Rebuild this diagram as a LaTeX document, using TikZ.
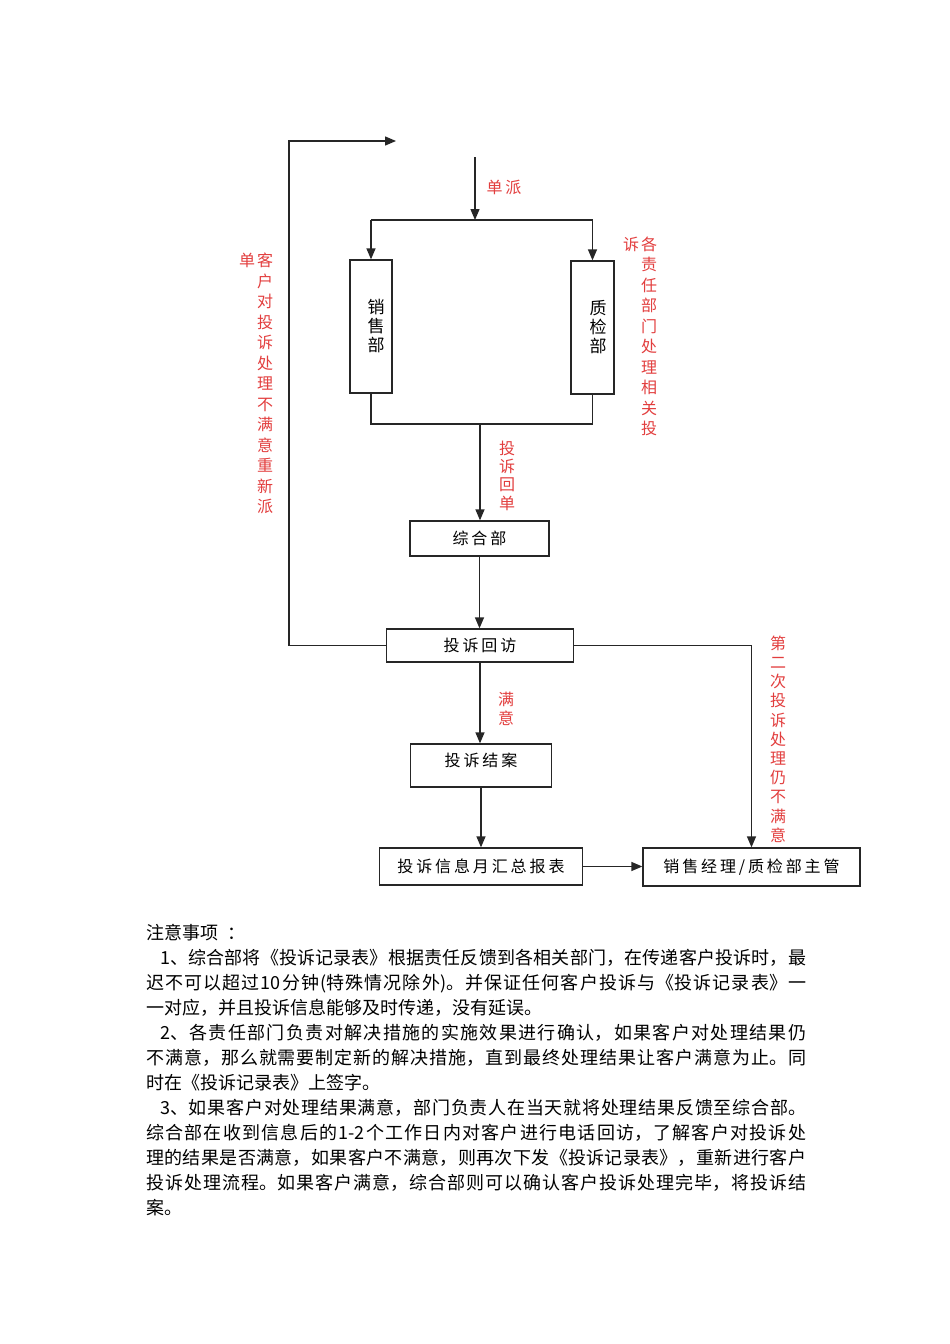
\documentclass[tikz,border=0pt]{standalone}
\usepackage{fontspec}
\setmainfont{Noto Sans CJK SC}
\newfontfamily\boxfont[LetterSpace=18]{Noto Sans CJK SC}
\usetikzlibrary{arrows.meta}
\XeTeXlinebreaklocale "zh"
\XeTeXlinebreakskip=0pt plus 2pt minus 0.5pt
\tolerance=10000
\hbadness=10000
\definecolor{notered}{RGB}{226,62,62}
\tikzset{
  box/.style={draw=black!85, line width=1.3pt, inner sep=0pt, font=\boxfont\fontsize{16}{19}\selectfont},
  vtxt/.style={align=center, inner sep=0pt, font=\fontsize{17}{19}\selectfont},
  link/.style={draw=black!85, line width=1.3pt},
  arr/.style={-{Triangle[width=9pt,length=11pt]}},
  redtxt/.style={text=notered, align=center, inner sep=0pt, font=\fontsize{16}{20.5}\selectfont},
  notes/.style={anchor=north west, inner sep=0pt, text width=660pt, align=justify,
    font=\fontsize{18}{25}\selectfont},
}
\begin{document}
\begin{tikzpicture}[x=1pt, y=-1pt]
  \useasboundingbox (0,0) rectangle (950,1344);

  % Departments
  \node[box, minimum width=42pt, minimum height=133pt] (xs) at (371,326.5) {};
  \node[vtxt] (xst) at ([xshift=5pt]xs.center) {销\\售\\部};
  \node[box, minimum width=43pt, minimum height=133pt] (zj) at (592.5,327.5) {};
  \node[vtxt] (zjt) at ([xshift=5.5pt]zj.center) {质\\检\\部};

  % Main column
  \node[box, minimum width=139pt, minimum height=35pt] (zh) at (479.5,538.5) {综合部};
  \node[box, minimum width=187pt, minimum height=33pt] (hf) at (480,645.5) {投诉回访};
  \node[box, minimum width=141pt, minimum height=43pt, text depth=12pt] (ja) at (481,765.5) {投诉结案};
  \node[box, minimum width=203pt, minimum height=37pt] (hz) at (481,866.5) {投诉信息月汇总报表};
  \node[box, minimum width=217pt, minimum height=38pt] (jl) at (751.5,867) {销售经理/质检部主管};

  % Free ends and corners
  \coordinate (start) at (475,157);
  \coordinate (split) at (475,220);
  \coordinate (merge) at (480,424);
  \coordinate (corner) at (289,141);
  \coordinate (back) at (396,141);

  % Connectors
  \draw[link, arr] (start) -- (split);
  \draw[link] (xs.north |- split) -- (zj.north |- split);
  \draw[link, arr] (xs.north |- split) -- (xs.north);
  \draw[link, arr] (zj.north |- split) -- (zj.north);
  \draw[link] (xs.south) |- (merge) -| (zj.south);
  \draw[link, arr] (merge) -- (merge |- zh.north);
  \draw[link, arr] (zh.south) -- (zh.south |- hf.north);
  \draw[link, arr] (hf.south) -- (hf.south |- ja.north);
  \draw[link, arr] (ja.south) -- (ja.south |- hz.north);
  \draw[link, arr] (hz.east) -- (hz.east -| jl.west);
  \draw[link, arr] (hf.east) -| (jl.north);
  \draw[link, arr] (hf.west) -| (corner) -- (back);

  % Red labels
  \node[redtxt, font=\boxfont\fontsize{16}{19}\selectfont] (pd) at (504,187) {单派};
  \node[redtxt] (gz) at (649,336.5) {各\\责\\任\\部\\门\\处\\理\\相\\关\\投};
  \node[redtxt] (gz2) at (631,244) {诉};
  \node[redtxt] (cp) at (265,383.5) {客\\户\\对\\投\\诉\\处\\理\\不\\满\\意\\重\\新\\派};
  \node[redtxt] (cp2) at (247,260) {单};
  \node[redtxt, font=\fontsize{16}{18.3}\selectfont] (hd) at (507,475.5) {投\\诉\\回\\单};
  \node[redtxt, font=\fontsize{16}{19}\selectfont] (my) at (506,709) {满\\意};
  \node[redtxt, font=\fontsize{16}{19.2}\selectfont] (de) at (778,739) {第\\二\\次\\投\\诉\\处\\理\\仍\\不\\满\\意};

  % Notes
  \node[notes] (nt) at (146,924) {注意事项\hspace{9pt}：\par
\hspace*{14pt}1、综合部将《投诉记录表》根据责任反馈到各相关部门，在传递客户投诉时，最\linebreak
迟不可以超过10分钟(特殊情况除外)。并保证任何客户投诉与《投诉记录表》一\linebreak
一对应，并且投诉信息能够及时传递，没有延误。\par
\hspace*{14pt}2、各责任部门负责对解决措施的实施效果进行确认，如果客户对处理结果仍\linebreak
不满意，那么就需要制定新的解决措施，直到最终处理结果让客户满意为止。同\linebreak
时在《投诉记录表》上签字。\par
\hspace*{14pt}3、如果客户对处理结果满意，部门负责人在当天就将处理结果反馈至综合部。\linebreak
综合部在收到信息后的1-2个工作日内对客户进行电话回访，了解客户对投诉处\linebreak
理的结果是否满意，如果客户不满意，则再次下发《投诉记录表》，重新进行客户\linebreak
投诉处理流程。如果客户满意，综合部则可以确认客户投诉处理完毕，将投诉结\linebreak
案。};
\end{tikzpicture}
\end{document}
